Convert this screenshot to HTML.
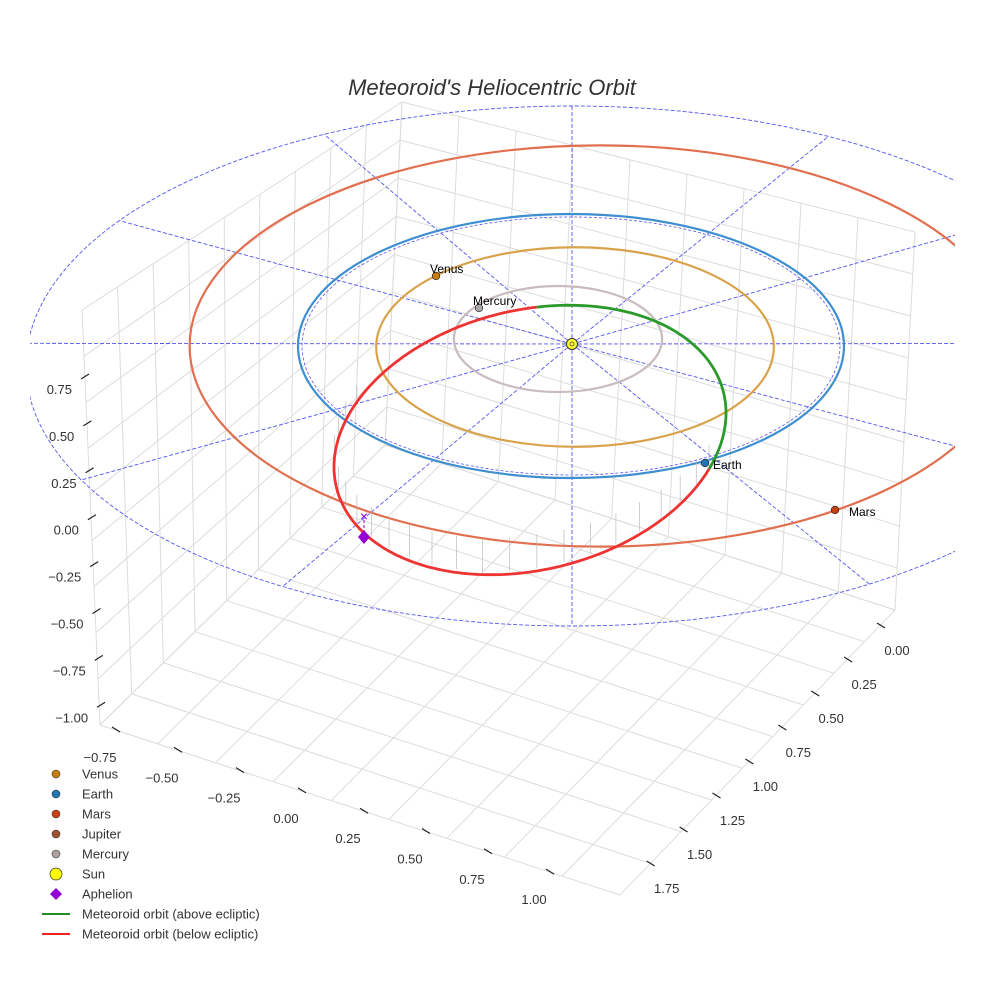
<!DOCTYPE html>
<html><head><meta charset="utf-8"><style>
body{margin:0;background:#fff}
svg{display:block;font-family:"Liberation Sans",sans-serif}
</style></head><body>
<svg id="c" width="984" height="984" viewBox="0 0 984 984">
<rect width="984" height="984" fill="#fff"/>
<g id="grid"></g>
<g id="ticks"></g>
<g id="plot"></g>
<text x="492" y="95" text-anchor="middle" font-size="22" font-style="italic" fill="#333">Meteoroid's Heliocentric Orbit</text>
<g id="legend"></g>
</svg>
<script>
const zTicks=["0.75","0.50","0.25","0.00","\u22120.25","\u22120.50","\u22120.75","\u22121.00"];
const xTicks=["\u22120.75","\u22120.50","\u22120.25","0.00","0.25","0.50","0.75","1.00"];
const yTicks=["0.00","0.25","0.50","0.75","1.00","1.25","1.50","1.75"];
const planetNames=["Mercury","Venus","Earth","Mars"];
const planetRadii=[0.387,0.723,1.0,1.52];
const orbitColors=["#c8bcbc","#d9a24a","#3d8fd0","#e07050"];
const planetColors=["#a9a9a9","#c77b0a","#1f77b4","#c84210"];
const radialAngles=[5,35,62,90,117,146,175,206,238,270,303,335];
const meteorU=[196,-27], meteorV=[0,132];
const legendLabels=["Venus","Earth","Mars","Jupiter","Mercury","Sun","Aphelion","Meteoroid orbit (above ecliptic)","Meteoroid orbit (below ecliptic)"];
const legendColors=["#c77b0a","#1f77b4","#c84210","#a0522d","#b0a0a0","#ffff00","#9400d3","#228b22","#ee2222"];

const NS="http://www.w3.org/2000/svg";
function mk(p,t,a){const e=document.createElementNS(NS,t);for(const k in a)e.setAttribute(k,a[k]);p.appendChild(e);return e;}
const G=document.getElementById('grid'),T=document.getElementById('ticks'),P=document.getElementById('plot'),L=document.getElementById('legend');
const BT=[402,102],BB=[385,445],LT=[82,310],LB=[100,725],RT=[915,232],RB=[895,610],FB=[620,895];
const lerp=(a,b,t)=>[a[0]+(b[0]-a[0])*t,a[1]+(b[1]-a[1])*t];
function line(p,a,b,st){return mk(p,'line',Object.assign({x1:a[0],y1:a[1],x2:b[0],y2:b[1]},st));}
const gs={stroke:"#dcdcdc","stroke-width":1};
for(let i=0;i<=9;i++){const t=i/9;
 let e;
 e=line(G,lerp(LT,BT,t),lerp(LB,BB,t),gs);
 
 e=line(G,lerp(BT,RT,t),lerp(BB,RB,t),gs);
 
 e=line(G,lerp(LT,LB,t),lerp(BT,BB,t),gs);
 
 e=line(G,lerp(BT,BB,t),lerp(RT,RB,t),gs);
 
 e=line(G,lerp(LB,BB,t),lerp(FB,RB,t),gs);
 
 e=line(G,lerp(BB,RB,t),lerp(LB,FB,t),gs);
 
}
zTicks.forEach((s,i)=>{const y=389+i*46.9;const x=85+i*2.3;
 let e=line(T,[x-4,y-10],[x+4,y-15],{stroke:"#222","stroke-width":1.2});
 
 e=mk(T,'text',{x:x-13,y:y+5,"text-anchor":"end","font-size":13,fill:"#333"});e.textContent=s;
 
});
xTicks.forEach((s,i)=>{const x=100+i*62,y=757+i*20.3;
 let e=line(T,[x+12,y-30],[x+20,y-25],{stroke:"#222","stroke-width":1.2});
 
 e=mk(T,'text',{x:x,y:y+5,"text-anchor":"middle","font-size":13,fill:"#333"});e.textContent=s;
 
});
yTicks.forEach((s,i)=>{const x=897-i*32.9,y=650+i*34;
 let e=line(T,[x-20,y-27],[x-12,y-22],{stroke:"#222","stroke-width":1.2});
 
 e=mk(T,'text',{x:x,y:y+5,"text-anchor":"middle","font-size":13,fill:"#333"});e.textContent=s;
 
});
const SX=572,SY=344;
const clip=mk(P,'clipPath',{id:'cl'});mk(clip,'rect',{x:30,y:0,width:925,height:984});
const PG=mk(P,'g',{"clip-path":"url(#cl)"});
const BCX=572,BCY=366,BRX=546,BRY=260;
const bpt=deg=>{const a=deg*Math.PI/180;return [BCX+BRX*Math.cos(a),BCY-BRY*Math.sin(a)];};
radialAngles.forEach(d=>{const e=line(PG,[SX,SY],bpt(d),{stroke:"#5555ee","stroke-width":0.9,"stroke-dasharray":"4,2"});
 });
let e=mk(PG,'ellipse',{cx:BCX,cy:BCY,rx:BRX,ry:BRY,fill:"none",stroke:"#5555ee","stroke-width":0.9,"stroke-dasharray":"4,2"});

const orbitCX=[558,575,571,600], orbitCY=[339,347,346,346], orbitKX=[269,275,273,270], orbitKY=[137,138,132,132];
e=mk(PG,'ellipse',{cx:571,cy:346,rx:269,ry:129,fill:"none",stroke:"#5555ee","stroke-width":0.8,"stroke-dasharray":"3,2"});

planetRadii.forEach((r,i)=>{
 const o=mk(PG,'ellipse',{cx:orbitCX[i],cy:orbitCY[i],rx:orbitKX[i]*r,ry:orbitKY[i]*r,fill:"none",stroke:orbitColors[i],"stroke-width":2.2});
 
});
const mc=[530,440];
const mpt=t=>[mc[0]+meteorU[0]*Math.cos(t)+meteorV[0]*Math.sin(t),mc[1]+meteorU[1]*Math.cos(t)+meteorV[1]*Math.sin(t)];
const s1=[533,306],s2=[705,463];
const side=p=>(s2[0]-s1[0])*(p[1]-s1[1])-(s2[1]-s1[1])*(p[0]-s1[0]);
for(let k=0;k<360;k+=8){const p=mpt(k*Math.PI/180);
 if(side(p)>=0 && p[1]>400){const st=line(PG,[p[0],p[1]-3],[p[0],p[1]-16-(p[1]-400)*0.12],{stroke:"#b0b0b0","stroke-width":0.6});}}
const ptsStr=a=>a.map(p=>p[0].toFixed(1)+","+p[1].toFixed(1)).join(" ");
let allPts=[];for(let k=0;k<=360;k++)allPts.push(mpt(k*Math.PI/180));
let segs=[];let cur=null;
allPts.forEach(p=>{const g=side(p)<0;if(!cur||cur.g!==g){if(cur)cur.pts.push(p);cur={g,pts:[]};segs.push(cur);}cur.pts.push(p);});
segs.forEach(sg=>{const pl=mk(PG,'polyline',{points:ptsStr(sg.pts),fill:"none",stroke:sg.g?"#2a9a2a":"#ee3333","stroke-width":2.8});
 });
const planetPos=[[479,308],[436,276],[705,463],[835,510]];
planetRadii.forEach((r,i)=>{const p=planetPos[i];
 const c=mk(P,'circle',{cx:p[0],cy:p[1],r:3.8,fill:planetColors[i],stroke:"#222","stroke-width":0.7});
 
 const dx=(i==2||i==3)?8:-6,dy=(i==2||i==3)?6:-3;
 const t=mk(P,'text',{x:p[0]+dx+(i==3?6:0),y:p[1]+dy,"font-size":12,fill:"#000"});t.textContent=planetNames[i];
 
});
e=mk(P,'circle',{cx:SX,cy:SY,r:5.5,fill:"#ffff33",stroke:"#333","stroke-width":1});
e=mk(P,'circle',{cx:SX,cy:SY,r:2,fill:"none",stroke:"#333","stroke-width":0.7});
e=line(P,[364,520],[364,531],{stroke:"#9400d3","stroke-width":1,"stroke-dasharray":"3,2"});
e=mk(P,'text',{x:364,y:521,"text-anchor":"middle","font-size":14,fill:"#9400d3"});e.textContent="\u00d7";
e=mk(P,'path',{d:"M364,530 L370,537 L364,544 L358,537Z",fill:"#9400d3"});
legendLabels.forEach((s,i)=>{const y=774+i*20;let m;
 if(i<5)m=mk(L,'circle',{cx:56,cy:y,r:4,fill:legendColors[i],stroke:"#333","stroke-width":0.6});
 else if(i==5)m=mk(L,'circle',{cx:56,cy:y,r:6,fill:legendColors[i],stroke:"#333","stroke-width":0.7});
 else if(i==6)m=mk(L,'path',{d:`M56,${y-6} L62,${y} L56,${y+6} L50,${y}Z`,fill:legendColors[i]});
 else m=line(L,[42,y],[70,y],{stroke:legendColors[i],"stroke-width":2});
 
 const t=mk(L,'text',{x:82,y:y+4.5,"font-size":13,fill:"#333"});t.textContent=s;
 
});
</script>
</body></html>
